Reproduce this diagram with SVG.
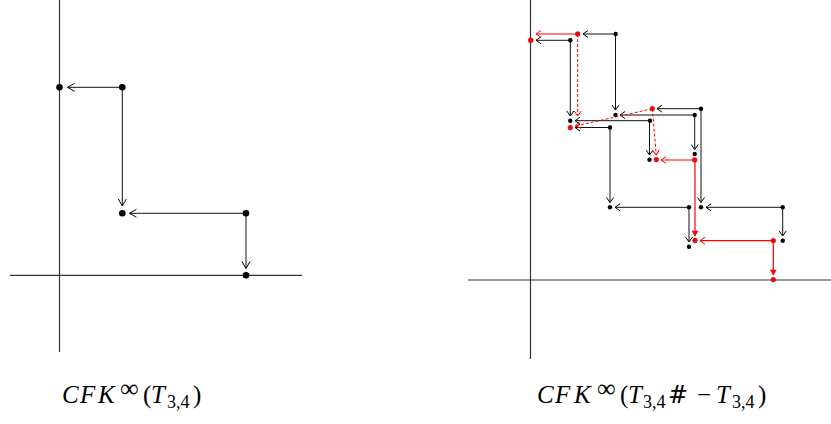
<svg xmlns="http://www.w3.org/2000/svg" width="831" height="424" viewBox="0 0 831 424">
<style>
.axis{stroke:#333;stroke-width:1.2;fill:none}
.e{stroke:#111;stroke-width:1;fill:none}
.r{stroke:#f00;stroke-width:1.2;fill:none}
.rd{stroke:#f00;stroke-width:1;fill:none;stroke-dasharray:3 2}
.bd{fill:#000}
.rdot{fill:#f00;stroke:#900;stroke-width:0.4}
.lbl{font-family:"Liberation Serif",serif;font-size:25px;fill:#000}
.it{font-style:italic}
.sm{font-size:18px}
.inf{font-size:26px}
.hash{font-family:"DejaVu Serif",serif;font-size:24px}
</style>
<defs>
<marker id="ab" markerUnits="userSpaceOnUse" viewBox="-8 -5 9 10" markerWidth="9" markerHeight="10" refX="0" refY="0" orient="auto">
<path d="M-7,-4 L0,0 L-7,4" fill="none" stroke="#000" stroke-width="1"/>
</marker>
<marker id="as" markerUnits="userSpaceOnUse" viewBox="-6 -4 7 8" markerWidth="7" markerHeight="8" refX="0" refY="0" orient="auto">
<path d="M-5,-3.5 L0,0 L-5,3.5" fill="none" stroke="#000" stroke-width="1"/>
</marker>
<marker id="ar" markerUnits="userSpaceOnUse" viewBox="-6 -4 7 8" markerWidth="7" markerHeight="8" refX="0" refY="0" orient="auto">
<path d="M-5,-3.5 L0,0 L-5,3.5" fill="none" stroke="#f00" stroke-width="1"/>
</marker>
<marker id="arf" markerUnits="userSpaceOnUse" viewBox="-6 -4 7 8" markerWidth="7" markerHeight="8" refX="0" refY="0" orient="auto">
<path d="M-5,-3 L0,0 L-5,3 Z" fill="#f00" stroke="#f00" stroke-width="0.6"/>
</marker>
</defs>

<g id="axes">
<line class="axis" x1="59.5" y1="0" x2="59.5" y2="352"/>
<line class="axis" x1="10" y1="275.3" x2="302" y2="275.3"/>
<line class="axis" x1="530.5" y1="0" x2="530.5" y2="359"/>
<line class="axis" x1="468" y1="280" x2="831" y2="280"/>
</g>

<g id="connectors">
<line class="e" x1="122.3" y1="87.3" x2="67.5" y2="87.3" marker-end="url(#ab)"/>
<line class="e" x1="122.3" y1="87.3" x2="122.3" y2="206" marker-end="url(#ab)"/>
<line class="e" x1="246" y1="213.3" x2="129.5" y2="213.3" marker-end="url(#ab)"/>
<line class="e" x1="246" y1="213.3" x2="246" y2="268.5" marker-end="url(#ab)"/>

<line class="e" x1="570.3" y1="40.3" x2="536" y2="40.3" marker-end="url(#as)"/>
<line class="e" x1="570.3" y1="40.3" x2="570.3" y2="116" marker-end="url(#as)"/>
<line class="e" x1="615.7" y1="34" x2="583" y2="34" marker-end="url(#as)"/>
<line class="e" x1="615.5" y1="34" x2="615.5" y2="110" marker-end="url(#as)"/>
<line class="e" x1="650" y1="120.7" x2="575" y2="120.7" marker-end="url(#as)"/>
<line class="e" x1="649.5" y1="120.7" x2="649.5" y2="155" marker-end="url(#as)"/>
<line class="e" x1="610" y1="127.5" x2="575" y2="127.5" marker-end="url(#as)"/>
<line class="e" x1="610" y1="127.5" x2="610" y2="202.5" marker-end="url(#as)"/>
<line class="e" x1="701" y1="108.7" x2="657" y2="108.7" marker-end="url(#as)"/>
<line class="e" x1="701" y1="108.7" x2="701" y2="202.5" marker-end="url(#as)"/>
<line class="e" x1="694.7" y1="115" x2="620" y2="115" marker-end="url(#as)"/>
<line class="e" x1="694.7" y1="115" x2="694.7" y2="149.5" marker-end="url(#as)"/>
<line class="e" x1="689" y1="207.3" x2="615" y2="207.3" marker-end="url(#as)"/>
<line class="e" x1="689" y1="207.3" x2="689" y2="242" marker-end="url(#as)"/>
<line class="e" x1="782.7" y1="207.3" x2="706" y2="207.3" marker-end="url(#as)"/>
<line class="e" x1="782.7" y1="207.3" x2="782.7" y2="236" marker-end="url(#as)"/>

<line class="r" x1="577.7" y1="34" x2="536" y2="34" marker-end="url(#ar)"/>
<line class="rd" x1="577.7" y1="34" x2="577.7" y2="116" marker-end="url(#ar)"/>
<line class="rd" x1="652.3" y1="108.7" x2="575.5" y2="126" marker-end="url(#ar)"/>
<line class="rd" x1="652.3" y1="108.7" x2="656.3" y2="155" marker-end="url(#ar)"/>
<line class="r" x1="694.7" y1="160" x2="661" y2="160" marker-end="url(#ar)"/>
<line class="r" x1="695" y1="160" x2="695" y2="236" marker-end="url(#arf)"/>
<line class="r" x1="773.3" y1="240.7" x2="700" y2="240.7" marker-end="url(#ar)"/>
<line class="r" x1="773.3" y1="240.7" x2="773.3" y2="275" marker-end="url(#arf)"/>
</g>

<g id="L1"><circle class="bd" cx="59.5" cy="87.3" r="3.3"/></g>
<g id="L2"><circle class="bd" cx="122.3" cy="87.3" r="3.3"/></g>
<g id="L3"><circle class="bd" cx="122.3" cy="213.3" r="3.3"/></g>
<g id="L4"><circle class="bd" cx="246" cy="213.3" r="3.3"/></g>
<g id="L5"><circle class="bd" cx="246" cy="275.3" r="3.3"/></g>

<g id="B1"><circle class="bd" cx="570.3" cy="40.3" r="2.2"/></g>
<g id="B2"><circle class="bd" cx="615.7" cy="34" r="2.2"/></g>
<g id="B3"><circle class="bd" cx="570.3" cy="120.7" r="2.2"/></g>
<g id="B4"><circle class="bd" cx="615.5" cy="115" r="2.2"/></g>
<g id="B5"><circle class="bd" cx="650" cy="120.7" r="2.2"/></g>
<g id="B6"><circle class="bd" cx="610" cy="127.5" r="2.2"/></g>
<g id="B7"><circle class="bd" cx="701" cy="108.7" r="2.2"/></g>
<g id="B8"><circle class="bd" cx="694.7" cy="115" r="2.2"/></g>
<g id="B9"><circle class="bd" cx="649.5" cy="159.7" r="2.2"/></g>
<g id="B10"><circle class="bd" cx="694.7" cy="154" r="2.2"/></g>
<g id="B11"><circle class="bd" cx="701" cy="207.3" r="2.2"/></g>
<g id="B12"><circle class="bd" cx="610" cy="207.3" r="2.2"/></g>
<g id="B13"><circle class="bd" cx="689" cy="207.3" r="2.2"/></g>
<g id="B14"><circle class="bd" cx="689" cy="246.7" r="2.2"/></g>
<g id="B15"><circle class="bd" cx="782.7" cy="207.3" r="2.2"/></g>
<g id="B16"><circle class="bd" cx="782.7" cy="240.7" r="2.2"/></g>

<g id="R1"><circle class="rdot" cx="530.7" cy="40.3" r="2.5"/></g>
<g id="R2"><circle class="rdot" cx="577.7" cy="34" r="2.4"/></g>
<g id="R3"><circle class="rdot" cx="570.3" cy="127.7" r="2.4"/></g>
<g id="R4"><circle class="rdot" cx="652.3" cy="108.7" r="2.4"/></g>
<g id="R5"><circle class="rdot" cx="656.3" cy="159.7" r="2.4"/></g>
<g id="R6"><circle class="rdot" cx="694.7" cy="160" r="2.4"/></g>
<g id="R7"><circle class="rdot" cx="695" cy="240.5" r="2.4"/></g>
<g id="R8"><circle class="rdot" cx="773.3" cy="240.7" r="2.4"/></g>
<g id="R9"><circle class="rdot" cx="773.3" cy="279.7" r="2.4"/></g>

<g id="label-left">
<text class="lbl" y="403"><tspan class="it" x="62">C</tspan><tspan class="it" x="80">F</tspan><tspan class="it" x="98">K</tspan><tspan class="inf" x="120" y="397">∞</tspan><tspan x="143" y="403">(</tspan><tspan class="it" x="151">T</tspan><tspan class="sm" x="167" y="408">3,4</tspan><tspan x="193" y="403">)</tspan></text>
</g>
<g id="label-right">
<text class="lbl" y="403"><tspan class="it" x="537">C</tspan><tspan class="it" x="555">F</tspan><tspan class="it" x="574">K</tspan><tspan class="inf" x="597" y="397">∞</tspan><tspan x="620" y="403">(</tspan><tspan class="it" x="628">T</tspan><tspan class="sm" x="643" y="408">3,4</tspan><tspan class="hash" x="668" y="403">#</tspan><tspan x="697">−</tspan><tspan class="it" x="716">T</tspan><tspan class="sm" x="732" y="408">3,4</tspan><tspan x="758" y="403">)</tspan></text>
</g>
</svg>
